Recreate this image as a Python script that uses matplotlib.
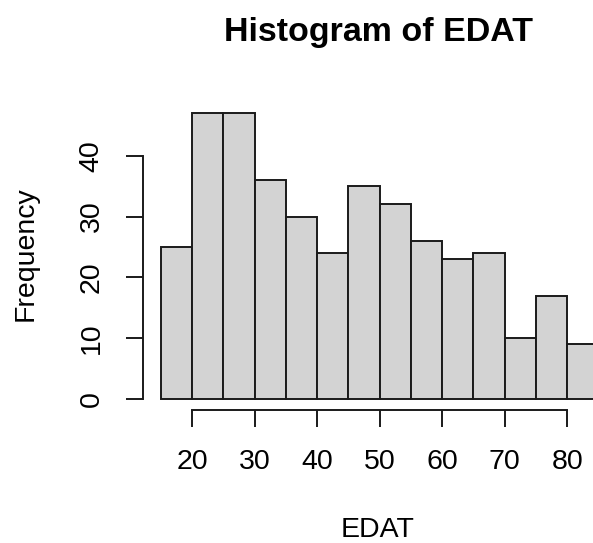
import matplotlib
matplotlib.use("Agg")
import matplotlib.pyplot as plt
import numpy as np

# Data: histogram of EDAT, bins of width 5
bin_edges = [15, 20, 25, 30, 35, 40, 45, 50, 55, 60, 65, 70, 75, 80, 85]
counts = [25, 47, 47, 36, 30, 24, 35, 32, 26, 23, 24, 10, 17, 9]
x_ticks = [20, 30, 40, 50, 60, 70, 80]
y_ticks = [0, 10, 20, 30, 40]
title = "Histogram of EDAT"
xlabel = "EDAT"
ylabel = "Frequency"

W, H = 593, 543
plt.rcParams['font.family'] = ['Liberation Sans', 'DejaVu Sans']
fig = plt.figure(figsize=(W / 100, H / 100), dpi=100)

# plot region in pixels (R-style, extends past right edge)
left_px, right_px = 143.3, 616.0
top_px, bottom_px = 101.8, 410.4
ax = fig.add_axes([left_px / W, 1 - bottom_px / H,
                   (right_px - left_px) / W, (bottom_px - top_px) / H])

lefts = np.array(bin_edges[:-1])
widths = np.diff(bin_edges)
ax.bar(lefts, counts, width=widths, align='edge', color='#D3D3D3',
       edgecolor='#1a1a1a', linewidth=1.4)

xr = bin_edges[-1] - bin_edges[0]
ax.set_xlim(bin_edges[0] - 0.04 * xr, bin_edges[-1] + 0.04 * xr)
yr = max(counts)
ax.set_ylim(-0.04 * yr, yr * 1.04)

for s in ['top', 'right']:
    ax.spines[s].set_visible(False)
ax.spines['left'].set_bounds(y_ticks[0], y_ticks[-1])
ax.spines['bottom'].set_bounds(x_ticks[0], x_ticks[-1])
for s in ['left', 'bottom']:
    ax.spines[s].set_linewidth(1.4)
    ax.spines[s].set_color('#1a1a1a')

ax.set_xticks(x_ticks)
ax.set_xticklabels([str(v) for v in x_ticks])
ax.set_yticks(y_ticks)
ax.set_yticklabels([str(v) for v in y_ticks], rotation=90, va='center', ha='right')
ax.tick_params(axis='both', direction='out', length=12, width=1.4,
               color='#1a1a1a', labelsize=20.5)
ax.tick_params(axis='x', pad=16)
ax.tick_params(axis='y', pad=16)

fig.text(378 / W, 1 - 32 / H, title, ha='center', va='center',
         fontsize=24.5, fontweight='bold')
fig.text(378 / W, 1 - 530 / H, xlabel, ha='center', va='center', fontsize=20.5)
fig.text(26 / W, 1 - 254 / H, ylabel, ha='center', va='center',
         fontsize=20.5, rotation=90)

fig.savefig("out.png", dpi=100)
